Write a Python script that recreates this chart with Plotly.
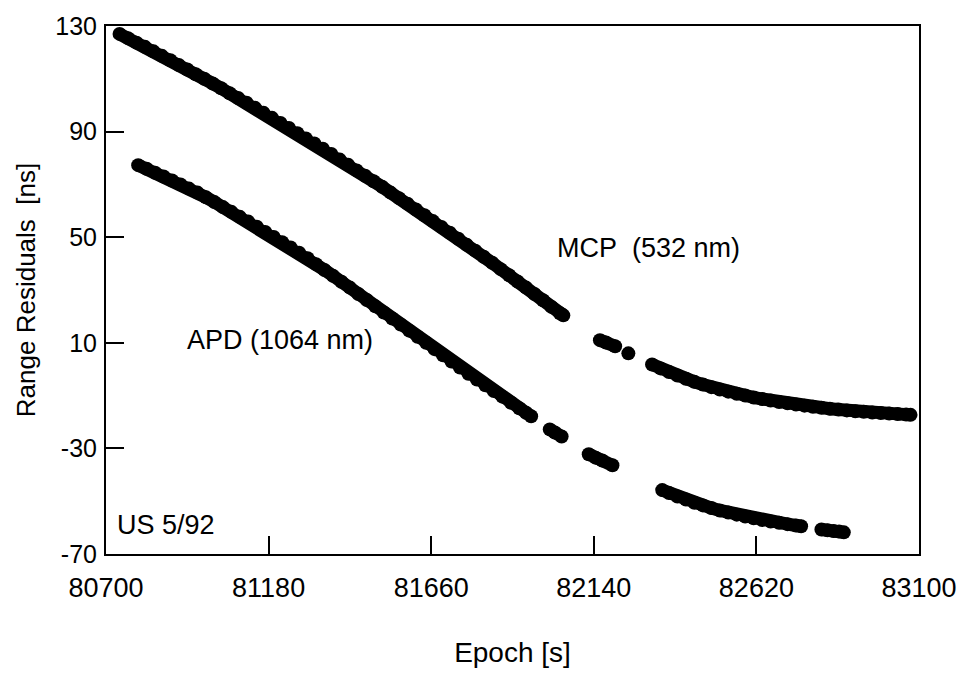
import plotly.graph_objects as go

# ---- data ----
x_ticks = [80700, 81180, 81660, 82140, 82620, 83100]
y_ticks = [-70, -30, 10, 50, 90, 130]

mcp_x = [
    80740, 80765, 80790, 80815, 80840, 80865, 80890, 80915, 80940, 80965,
    80990, 81015, 81040, 81065, 81090, 81115, 81140, 81165, 81190, 81215,
    81240, 81265, 81290, 81315, 81340, 81365, 81390, 81415, 81440, 81465,
    81490, 81515, 81540, 81565, 81590, 81615, 81640, 81665, 81690, 81715,
    81740, 81765, 81790, 81815, 81840, 81865, 81890, 81915, 81940, 81965,
    81990, 82015, 82040, 82050,
    82158, 82176, 82203, 82242,
    82312, 82337, 82362, 82387, 82412, 82437, 82462, 82487, 82512, 82537,
    82562, 82587, 82612, 82637, 82662, 82687, 82712, 82737, 82762, 82787,
    82812, 82837, 82862, 82887, 82912, 82937, 82962, 82987, 83012, 83037,
    83062, 83075,
]
mcp_y = [
    127.0, 125.4, 123.7, 122.1, 120.4, 118.7, 117.0, 115.2, 113.5, 111.7,
    110.0, 108.2, 106.4, 104.5, 102.7, 100.9, 99.0, 97.1, 95.2, 93.3,
    91.4, 89.4, 87.4, 85.5, 83.5, 81.5, 79.4, 77.4, 75.3, 73.3,
    71.2, 69.1, 66.9, 64.8, 62.7, 60.5, 58.3, 56.1, 53.9, 51.7,
    49.4, 47.1, 44.9, 42.6, 40.3, 37.9, 35.6, 33.2, 30.9, 28.5,
    26.1, 23.6, 21.2, 20.4,
    11.0, 10.1, 8.7, 6.0,
    1.8, 0.3, -1.1, -2.4, -3.6, -4.8, -5.8, -6.8, -7.7, -8.5,
    -9.3, -10.0, -10.7, -11.3, -11.9, -12.4, -12.9, -13.4, -13.8, -14.2,
    -14.6, -15.0, -15.3, -15.6, -15.9, -16.1, -16.4, -16.6, -16.8, -17.0,
    -17.2, -17.3,
]

apd_x = [
    80795, 80820, 80845, 80870, 80895, 80920, 80945, 80970, 80995, 81020,
    81045, 81070, 81095, 81120, 81145, 81170, 81195, 81220, 81245, 81270,
    81295, 81320, 81345, 81370, 81395, 81420, 81445, 81470, 81495, 81520,
    81545, 81570, 81595, 81620, 81645, 81670, 81695, 81720, 81745, 81770,
    81795, 81820, 81845, 81870, 81895, 81920, 81940, 81955,
    82010, 82025, 82045,
    82125, 82145, 82165, 82195,
    82342, 82362, 82387, 82412, 82437, 82462, 82487, 82512, 82537, 82562,
    82587, 82612, 82637, 82662, 82687, 82712, 82737, 82752,
    82812, 82830, 82848, 82864, 82878,
]
apd_y = [
    77.3, 75.9, 74.4, 73.0, 71.5, 70.0, 68.4, 66.9, 65.1, 63.3,
    61.4, 59.6, 57.7, 55.9, 54.0, 52.0, 50.1, 48.1, 46.1, 44.1,
    42.0, 39.8, 37.6, 35.4, 33.1, 30.9, 28.5, 26.2, 23.8, 21.5,
    19.2, 16.9, 14.6, 12.3, 10.0, 7.6, 5.3, 2.9, 0.6, -1.7,
    -3.9, -6.1, -8.3, -10.4, -12.6, -14.8, -16.5, -17.8,
    -22.8, -24.0, -25.5,
    -32.2, -33.5, -34.6, -36.4,
    -45.8, -46.9, -48.2, -49.4, -50.6, -51.6, -52.6, -53.5, -54.3, -55.1,
    -55.8, -56.5, -57.1, -57.7, -58.2, -58.7, -59.2, -59.5,
    -60.7, -61.0, -61.3, -61.5, -61.8,
]

MAX_STEP = 30  # consecutive samples closer than this (s) belong to one continuous run


def runs_with_breaks(xs, ys):
    """Insert None between samples separated by a data gap so the band is not bridged."""
    lx, ly = [xs[0]], [ys[0]]
    for i in range(1, len(xs)):
        if xs[i] - xs[i - 1] > MAX_STEP:
            lx.append(None)
            ly.append(None)
        lx.append(xs[i])
        ly.append(ys[i])
    return lx, ly


FONT = "Liberation Sans, Arial, Helvetica, sans-serif"

fig = go.Figure()
for xs, ys, name in [(mcp_x, mcp_y, "MCP (532 nm)"), (apd_x, apd_y, "APD (1064 nm)")]:
    lx, ly = runs_with_breaks(xs, ys)
    fig.add_trace(go.Scatter(
        x=lx, y=ly, mode="lines", name=name,
        line=dict(color="black", width=13),
        connectgaps=False, showlegend=False, hoverinfo="skip",
    ))
    fig.add_trace(go.Scatter(
        x=xs, y=ys, mode="markers", name=name,
        marker=dict(color="black", size=14, line=dict(width=0)),
        showlegend=False, hoverinfo="x+y",
    ))

axis_common = dict(
    showgrid=False, zeroline=False, showline=True, linecolor="black",
    linewidth=2, mirror=True, ticks="inside", ticklen=18, tickwidth=2,
    tickcolor="black",
)

fig.update_layout(
    width=969, height=675,
    margin=dict(l=106, r=49, t=22, b=118),
    paper_bgcolor="white", plot_bgcolor="white",
    font=dict(family=FONT, color="black"),
    xaxis=dict(
        range=[80700, 83100], tickvals=x_ticks,
        ticktext=[str(v) for v in x_ticks],
        tickfont=dict(size=27), ticklabelstandoff=9,
        title=dict(text="Epoch [s]", font=dict(size=28), standoff=40),
        **axis_common,
    ),
    yaxis=dict(
        range=[-70, 130], tickvals=y_ticks,
        ticktext=[str(v) for v in y_ticks],
        tickfont=dict(size=25), ticklabelstandoff=2,
        title=dict(text="Range Residuals\u00a0 [ns]", font=dict(size=26), standoff=12),
        **axis_common,
    ),
    annotations=[
        dict(x=82024, y=45.9, xref="x", yref="y", text="MCP\u00a0 (532 nm)",
             showarrow=False, xanchor="left", yanchor="middle", font=dict(size=27)),
        dict(x=80934, y=11.1, xref="x", yref="y", text="APD (1064 nm)",
             showarrow=False, xanchor="left", yanchor="middle", font=dict(size=27)),
        dict(x=80727, y=-59.1, xref="x", yref="y", text="US 5/92",
             showarrow=False, xanchor="left", yanchor="middle", font=dict(size=27)),
    ],
)

fig.write_html("out.html")
